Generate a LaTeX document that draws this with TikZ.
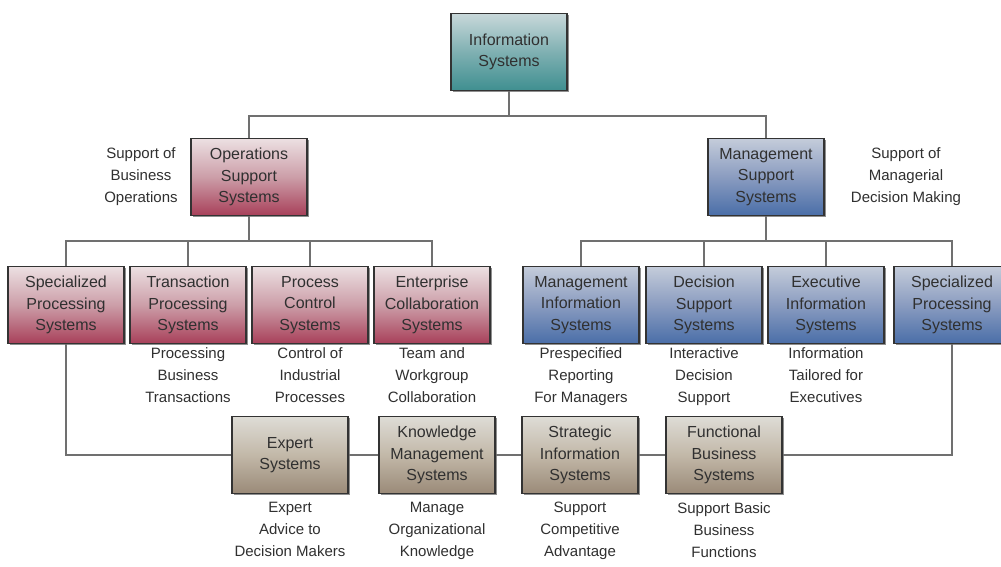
\documentclass[tikz,border=0pt]{standalone}
\usepackage{fontspec}
\setmainfont{Liberation Sans}
\usetikzlibrary{shadows}
\definecolor{tealT}{HTML}{C8D8DA}\definecolor{tealM}{HTML}{7FB0B2}\definecolor{tealB}{HTML}{3F8F90}
\definecolor{redT}{HTML}{ECE0E2}\definecolor{redM}{HTML}{CC9EA8}\definecolor{redB}{HTML}{A8405A}
\definecolor{bluT}{HTML}{C4CCDA}\definecolor{bluM}{HTML}{8A9CC0}\definecolor{bluB}{HTML}{4A6EA8}
\definecolor{tanT}{HTML}{DEDCD6}\definecolor{tanM}{HTML}{C2B8A8}\definecolor{tanB}{HTML}{9A8A78}
\definecolor{linecol}{HTML}{707070}
\definecolor{txt}{HTML}{303030}
\begin{document}
\begin{tikzpicture}[x=1pt,y=-1pt,
  sysbox/.style={rectangle, draw=black!80, line width=1.2pt, minimum width=116pt, minimum height=77pt,
    align=center, font=\fontsize{16}{21.5}\selectfont, text=txt, inner sep=1pt,
    drop shadow={shadow xshift=1.5pt, shadow yshift=-1.5pt, fill=black!55, opacity=0.8}},
  tealbox/.style={sysbox, top color=tealT, bottom color=tealB, middle color=tealM},
  redbox/.style={sysbox, top color=redT, bottom color=redB, middle color=redM},
  blubox/.style={sysbox, top color=bluT, bottom color=bluB, middle color=bluM},
  tanbox/.style={sysbox, top color=tanT, bottom color=tanB, middle color=tanM},
  lbl/.style={align=center, font=\fontsize{15}{22}\selectfont, text=txt, inner sep=0pt},
  conn/.style={draw=linecol, line width=1.3pt}
]
\useasboundingbox (0,0) rectangle (1001,566);
\fill[white] (0,0) rectangle (1001,566);

% top
\node[tealbox] (is) at (509,52) {Information\\Systems};
% second row
\node[redbox] (oss) at (249,177) {Operations\\Support\\Systems};
\node[blubox] (mss) at (766,177) {Management\\Support\\Systems};
\node[lbl] (lo) at (141,177) {Support of\\Business\\Operations};
\node[lbl] (lm) at (906,177) {Support of\\Managerial\\Decision Making};

% third row
\node[redbox] (b1) at (66,305) {Specialized\\Processing\\Systems};
\node[redbox] (b2) at (188,305) {Transaction\\Processing\\Systems};
\node[redbox] (b3) at (310,305) {Process\\Control\\Systems};
\node[redbox] (b4) at (432,305) {Enterprise\\Collaboration\\Systems};
\node[blubox] (b5) at (581,305) {Management\\Information\\Systems};
\node[blubox] (b6) at (704,305) {Decision\\Support\\Systems};
\node[blubox] (b7) at (826,305) {Executive\\Information\\Systems};
\node[blubox] (b8) at (952,305) {Specialized\\Processing\\Systems};

\node[lbl, anchor=north] (t2) at (188,347) {Processing\\Business\\Transactions};
\node[lbl, anchor=north] (t3) at (310,347) {Control of\\Industrial\\Processes};
\node[lbl, anchor=north] (t4) at (432,347) {Team and\\Workgroup\\Collaboration};
\node[lbl, anchor=north] (t5) at (581,347) {Prespecified\\Reporting\\For Managers};
\node[lbl, anchor=north] (t6) at (704,347) {Interactive\\Decision\\Support};
\node[lbl, anchor=north] (t7) at (826,347) {Information\\Tailored for\\Executives};

% fourth row
\node[tanbox] (es) at (290,455) {Expert\\Systems};
\node[tanbox] (kms) at (437,455) {Knowledge\\Management\\Systems};
\node[tanbox] (sis) at (580,455) {Strategic\\Information\\Systems};
\node[tanbox] (fbs) at (724,455) {Functional\\Business\\Systems};

\node[lbl, anchor=north] (u1) at (290,502) {Expert\\Advice to\\Decision Makers};
\node[lbl, anchor=north] (u2) at (437,502) {Manage\\Organizational\\Knowledge};
\node[lbl, anchor=north] (u3) at (580,502) {Support\\Competitive\\Advantage};
\node[lbl, anchor=north] (u4) at (724,502) {Support Basic\\Business\\Functions};

% junctions
\coordinate (j1) at (509,116);
\coordinate (j2) at (249,241);
\coordinate (j3) at (766,241);

\draw[conn] (is.south) -- (j1);
\draw[conn] (oss.north) |- (j1) -| (mss.north);
\draw[conn] (oss.south) -- (j2);
\draw[conn] (b1.north) |- (j2) -| (b4.north);
\draw[conn] (b2.north) -- (b2.north |- j2);
\draw[conn] (b3.north) -- (b3.north |- j2);
\draw[conn] (mss.south) -- (j3);
\draw[conn] (b5.north) |- (j3) -| (b8.north);
\draw[conn] (b6.north) -- (b6.north |- j3);
\draw[conn] (b7.north) -- (b7.north |- j3);
\draw[conn] (b1.south) |- (es.west);
\draw[conn] (es.east) -- (kms.west);
\draw[conn] (kms.east) -- (sis.west);
\draw[conn] (sis.east) -- (fbs.west);
\draw[conn] (fbs.east) -| (b8.south);
\end{tikzpicture}
\end{document}
